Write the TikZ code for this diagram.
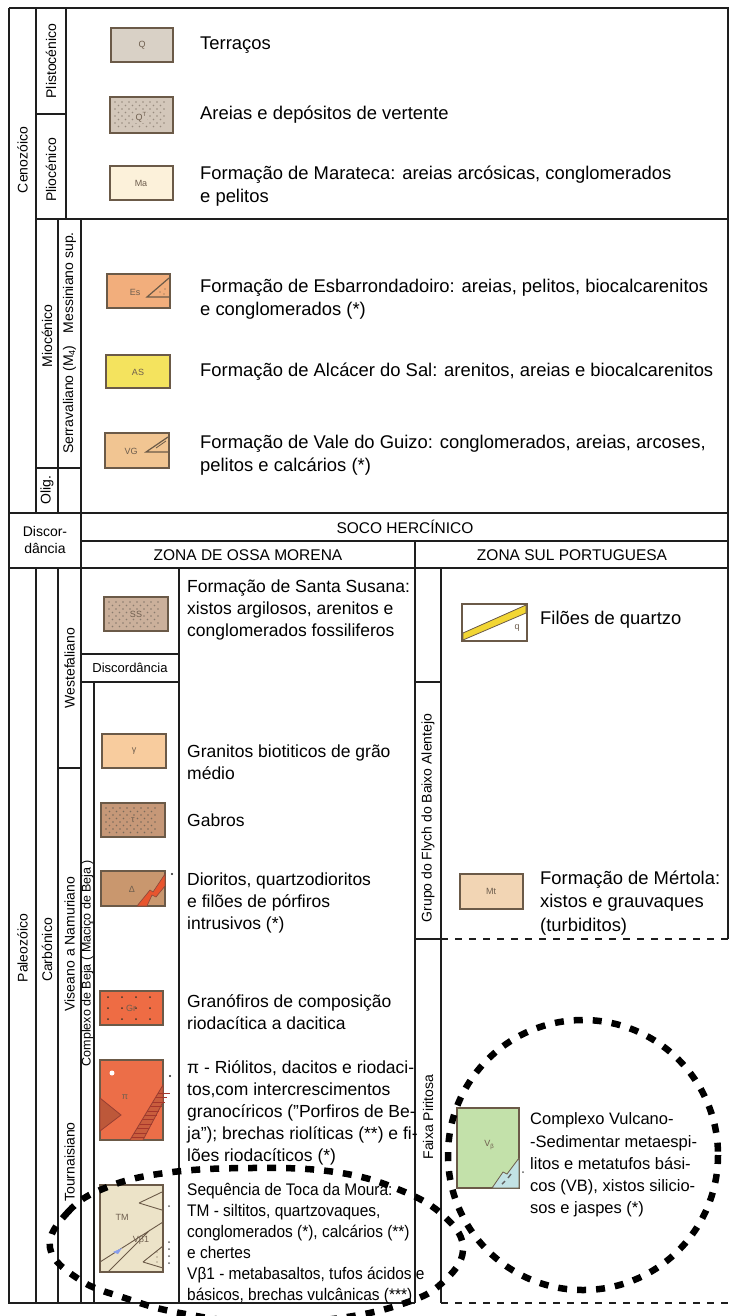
\documentclass[tikz,border=0pt]{standalone}
\usepackage{fontspec}
\setmainfont{Liberation Sans}
\newfontfamily\narrowfont[FakeStretch=0.92]{Liberation Sans}
\definecolor{linha}{HTML}{1E1E1E}
\definecolor{borda}{HTML}{6B5A48}
\definecolor{corRot}{HTML}{6E5E4E}
\definecolor{corQ}{HTML}{D9D1C6}
\definecolor{corQT}{HTML}{D3C7BA}
\definecolor{corMa}{HTML}{FCF1DA}
\definecolor{corEs}{HTML}{F2AE7C}
\definecolor{corAS}{HTML}{F4E35E}
\definecolor{corVG}{HTML}{F1C592}
\definecolor{corSS}{HTML}{CBB09B}
\definecolor{corGam}{HTML}{F8CC9E}
\definecolor{corGab}{HTML}{C69878}
\definecolor{corDio}{HTML}{C9976E}
\definecolor{corGr}{HTML}{EE6C44}
\definecolor{corPi}{HTML}{EC6E48}
\definecolor{corTM}{HTML}{ECE3C8}
\definecolor{corMt}{HTML}{F2D5B4}
\definecolor{corVB}{HTML}{C3E1AA}
\definecolor{corAzul}{HTML}{C2E2E4}
\definecolor{corDique}{HTML}{E8552E}
\definecolor{corQz}{HTML}{F2D634}
\tikzset{
 quadro/.style={line width=1.7pt, draw=linha},
 tracado/.style={line width=1.3pt, draw=linha, dash pattern=on 7pt off 7pt},
 legbox/.style={line width=1.6pt, draw=borda},
 rotulo/.style={font=\fontsize{9}{9}\selectfont, text=corRot, inner sep=0pt},
 txtsup/.style={right, inner sep=0pt, align=left, font=\fontsize{18.4}{23.5}\selectfont},
 txtoz/.style={right, inner sep=0pt, align=left, font=\fontsize{17.5}{22}\selectfont},
 txttm/.style={right, inner sep=0pt, align=left, font=\narrowfont\fontsize{16.8}{21}\selectfont},
 txtvb/.style={right, inner sep=0pt, align=left, font=\fontsize{16.5}{22.2}\selectfont},
 vert/.style={rotate=90, inner sep=0pt, font=\fontsize{14}{14}\selectfont},
 cabec/.style={inner sep=0pt, font=\fontsize{15.5}{15.5}\selectfont},
 circulo/.style={line width=6.5pt, dash pattern=on 9pt off 10pt},
}
\begin{document}
\begin{tikzpicture}[x=1pt,y=-1pt]
\useasboundingbox (0,0) rectangle (731,1316);
\def\caixa#1#2#3#4#5{
\draw[legbox, fill=#5] (#1,#2) rectangle (#3,#4);
}
\def\pontos#1#2#3{
\foreach \px in {5,12,...,59} \foreach \py in {5,12,...,30} \fill[#3] (#1+\px,#2+\py) circle (0.8);
\foreach \px in {8.5,15.5,...,57} \foreach \py in {8.5,15.5,...,30} \fill[#3] (#1+\px,#2+\py) circle (0.8);
}
% quadro
\draw[quadro] (9,8) -- (728,8) -- (728,939);
\draw[quadro] (9,8) -- (9,1303) -- (415,1303);
\draw[quadro] (36,8) -- (36,513) (36,568) -- (36,1303);
\draw[quadro] (66,8) -- (66,219) (36,114) -- (66,114);
\draw[quadro] (36,219) -- (728,219);
\draw[quadro] (58,219) -- (58,513) (58,568) -- (58,1303);
\draw[quadro] (81,219) -- (81,1303);
\draw[quadro] (36,468) -- (81,468);
\draw[quadro] (9,513) -- (728,513) (81,541) -- (728,541) (9,568) -- (728,568);
\draw[quadro] (415,541) -- (415,1303) (441,568) -- (441,1303);
\draw[quadro] (179,568) -- (179,1303) (81,654) -- (179,654) (81,682) -- (179,682);
\draw[quadro] (94,682) -- (94,1303) (58,768) -- (81,768);
\draw[quadro] (415,682) -- (441,682) (415,939) -- (441,939);
\draw[tracado] (441,939) -- (728,939) (441,1303) -- (728,1303);
% colunas
\node[vert] (ceno) at (22.5,160) {Cenozóico};
\node[vert] (plis) at (51,61) {Plistocénico};
\node[vert] (plio) at (51,170) {Pliocénico};
\node[vert] (mioc) at (47,336) {Miocénico};
\node[vert] (serr) at (69.5,343) {Serravaliano (M\raisebox{-2pt}{\fontsize{9}{9}\selectfont 4})\hspace{12pt}Messiniano sup.};
\node[vert] (olig) at (47,490) {Olig.};
\node[align=center, inner sep=0pt, font=\fontsize{14}{17}\selectfont] (disc) at (45,540) {Discor-\\dância};
\node[vert] (pale) at (22.5,948) {Paleozóico};
\node[vert] (carb) at (47,950) {Carbónico};
\node[vert] (west) at (69.5,668) {Westefaliano};
\node[vert] (vise) at (69.5,944) {Viseano a Namuriano};
\node[vert] (tour) at (69.5,1162) {Tournaisiano};
\node[vert, font=\fontsize{12.5}{12.5}\selectfont] (beja) at (87.5,963) {Complexo de Beja ( Maciço de Beja )};
\node[inner sep=0pt, font=\fontsize{13}{13}\selectfont] (discb) at (130,668) {Discordância};
\node[vert] (flych) at (428,818) {Grupo do Flych do Baixo Alentejo};
\node[vert] (faix) at (428,1117) {Faixa Piritosa};
\node[cabec] (soco) at (405,527) {SOCO HERCÍNICO};
\node[cabec] (zom) at (248,555) {ZONA DE OSSA MORENA};
\node[cabec] (zsp) at (572,555) {ZONA SUL PORTUGUESA};
% Cenozoico
\caixa{111}{28}{173}{62}{corQ}
\node[rotulo] (labQ) at (142,45) {Q};
\caixa{110}{97}{173}{133}{corQT}
\pontos{110}{97}{borda!70}
\node[rotulo, fill=corQT, inner sep=1pt] (labQT) at (141,117) {Q\raisebox{4pt}{\fontsize{6}{6}\selectfont T}};
\caixa{110}{166}{173}{200}{corMa}
\node[rotulo] (labMa) at (141,183) {Ma};
\caixa{107}{274}{170}{308}{corEs}
\draw[borda, line width=1.2pt] (169,278) -- (147,297) -- (170,297);
\fill[borda] (160,292) circle (0.7) (165,289) circle (0.7) (164,294) circle (0.7);
\node[rotulo] (labEs) at (135,292) {Es};
\caixa{106}{355}{170}{388}{corAS}
\node[rotulo] (labAS) at (138,372) {AS};
\caixa{105}{433}{169}{468}{corVG}
\draw[borda, line width=1.2pt] (168,437) -- (146,452) -- (169,452);
\draw[borda, line width=0.8pt] (156,448) -- (166,441);
\node[rotulo] (labVG) at (131,451) {VG};
\node[txtsup] (terr) at (200,45) {Terraços};
\node[txtsup] (arei) at (200,115) {Areias e depósitos de vertente};
\node[txtsup] (mara) at (200,186) {Formação de Marateca: areias arcósicas, conglomerados\\e pelitos};
\node[txtsup] (esba) at (200,299) {Formação de Esbarrondadoiro: areias, pelitos, biocalcarenitos\\e conglomerados (*)};
\node[txtsup] (alca) at (200,372) {Formação de Alcácer do Sal: arenitos, areias e biocalcarenitos};
\node[txtsup] (vale) at (200,455) {Formação de Vale do Guizo: conglomerados, areias, arcoses,\\pelitos e calcários (*)};
% Ossa Morena
\caixa{104}{597}{168}{631}{corSS}
\pontos{104}{597}{borda!80}
\node[rotulo, fill=corSS, inner sep=1pt] (labSS) at (136,614) {SS};
\caixa{102}{734}{166}{768}{corGam}
\node[rotulo] (labGam) at (134,751) {γ};
\caixa{101}{803}{165}{837}{corGab}
\pontos{101}{803}{borda!90}
\node[rotulo, fill=corGab, inner sep=1pt] (labGab) at (133,820) {τ};
\caixa{101}{871}{165}{906}{corDio}
\fill[corDique, draw=borda!80!red, line width=0.6pt] (137,906) -- (150,890) -- (153,892) -- (165,874) -- (165,886) -- (156,897) -- (152,895) -- (147,906) -- cycle;
\node[rotulo] (labDio) at (132,889) {Δ};
\fill[linha] (172,874) circle (1.2);
\caixa{100}{991}{163}{1025}{corGr}
\foreach \px in {8,22,...,58} \foreach \py in {6,17,28} \fill[borda!60!black] (100+\px,991+\py) circle (1);
\node[rotulo] (labGr) at (131,1008) {Gr};
\caixa{100}{1060}{163}{1140}{corPi}
\draw[borda!70!red, line width=0.8pt, fill=corPi!85!black] (130,1140) -- (163,1085) -- (163,1102) -- (143,1140);
\foreach \t in {0.05,0.13,...,0.9} \draw[borda!60!red, line width=0.7pt] (130+33*\t,1140-55*\t) -- ++(12,0);
\fill[corPi!80!black, draw=borda!70!red, line width=0.8pt] (100,1098) -- (121,1115) -- (100,1131) -- cycle;
\fill[white] (112,1073) circle (2.5);
\node[rotulo] (labPi) at (125,1097) {π};
\fill[linha] (170,1076) circle (1.2);
\caixa{100}{1185}{163}{1272}{corTM}
\draw[borda, line width=0.9pt] (100,1262) -- (163,1222) (108,1272) -- (150,1230);
\draw[borda, line width=0.9pt] (139,1203) -- (162,1192) (139,1203) -- (162,1210);
\draw[borda, line width=0.9pt, fill=corTM!80!white] (143,1262) -- (163,1246) (143,1262) -- (163,1268);
\foreach \py in {1252,1257,1262} \fill[borda] (157,\py) circle (0.7);
\fill[corAzul!70!blue] (113,1252) -- (122,1248) -- (118,1254) -- cycle;
\node[rotulo] (labTM) at (122,1217) {TM};
\node[rotulo] (labVb) at (141,1240) {Vβ1};
\foreach \py in {1206,1242,1249,1256,1263} \fill[linha!70] (169,\py) circle (1);
\node[txtoz] (sant) at (187,610) {Formação de Santa Susana:\\xistos argilosos, arenitos e\\conglomerados fossiliferos};
\node[txtoz] (gran) at (187,762) {Granitos biotiticos de grão\\médio};
\node[txtoz] (gabr) at (187,820) {Gabros};
\node[txtoz] (dior) at (187,903) {Dioritos, quartzodioritos\\e filões de pórfiros\\intrusivos (*)};
\node[txtoz] (grano) at (187,1012) {Granófiros de composição\\riodacítica a dacitica};
\node[txtoz] (riol) at (187,1113) {π - Riólitos, dacitos e riodaci-\\tos,com intercrescimentos\\granocíricos ("Porfiros de Be-\\ja"); brechas riolíticas (**) e fi-\\lões riodacíticos (*)};
\node[txttm] (toca) at (187,1244) {Sequência de Toca da Moura:\\TM - siltitos, quartzovaques,\\conglomerados (*), calcários (**)\\e chertes\\Vβ1 - metabasaltos, tufos ácidos e\\básicos, brechas vulcânicas (***)};
% Sul Portuguesa
\caixa{462}{604}{527}{641}{white}
\fill[corQz, draw=borda, line width=0.8pt] (463,633) -- (526,605) -- (526,613) -- (463,640) -- cycle;
\node[rotulo] (labq) at (517,628) {q};
\caixa{460}{874}{523}{909}{corMt}
\node[rotulo] (labMt) at (491,891) {Mt};
\caixa{457}{1108}{519}{1188}{corVB}
\fill[corAzul, draw=borda, line width=0.8pt] (492,1188) -- (503,1172) -- (507,1174) -- (519,1158) -- (519,1188) -- cycle;
\draw[linha!70, line width=1.4pt] (508,1178) -- (511,1174) (502,1184) -- (505,1181);
\node[rotulo] (labVB) at (489,1145) {V\raisebox{-1.5pt}{\fontsize{6}{6}\selectfont β}};
\fill[linha!70] (523,1172) circle (1);
\node[txtsup] (filo) at (540,620) {Filões de quartzo};
\node[txtsup] (mert) at (540,903) {Formação de Mértola:\\xistos e grauvaques\\(turbiditos)};
\node[txtvb] (comp) at (530,1165) {Complexo Vulcano-\\-Sedimentar metaespi-\\litos e metatufos bási-\\cos (VB), xistos silicio-\\sos e jaspes (*)};
% destaques
\draw[circulo] (583,1155) circle (135);
\draw[circulo] plot[smooth cycle, tension=0.7] coordinates {(50,1248) (68,1212) (105,1188) (165,1173) (250,1168) (335,1172) (400,1190) (445,1217) (463,1250) (442,1283) (405,1303) (340,1318) (260,1323) (180,1313) (125,1298) (80,1280)};
\end{tikzpicture}
\end{document}
